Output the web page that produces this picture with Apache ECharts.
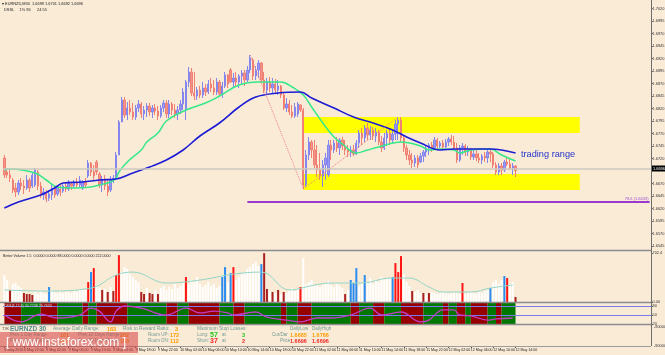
<!DOCTYPE html>
<html>
<head>
<meta charset="utf-8">
<script src="https://cdn.jsdelivr.net/npm/echarts@6/dist/echarts.min.js"></script>
<style>
html, body { margin: 0; padding: 0; background: #faebd7; }
#chart { width: 665px; height: 355px; }
</style>
</head>
<body>
<div id="chart"></div>
<script>
// EURNZD M30, bars as [open, close, low, high]
const ohlc = [
[1.6721,1.6687,1.6681,1.6727],[1.6693,1.6687,1.6681,1.6701],[1.6687,1.6681,1.6673,1.6697],[1.6677,1.6657,1.6651,1.6681],
[1.6661,1.6653,1.6643,1.6671],[1.6653,1.6671,1.6647,1.6677],[1.6671,1.6665,1.6657,1.6681],[1.6665,1.6661,1.6649,1.6677],
[1.6661,1.6677,1.6657,1.6687],[1.6677,1.6661,1.6653,1.6681],[1.6665,1.6687,1.6661,1.6693],[1.6667,1.6697,1.6663,1.6701],
[1.6693,1.6665,1.6657,1.6697],[1.6665,1.6647,1.6641,1.6673],[1.6647,1.6653,1.6637,1.6661],[1.6653,1.6639,1.6633,1.6657],
[1.6641,1.6649,1.6635,1.6657],[1.6647,1.6661,1.6637,1.6667],[1.6661,1.6647,1.6641,1.6665],[1.6649,1.6661,1.6645,1.6667],
[1.6659,1.6653,1.6645,1.6667],[1.6655,1.6665,1.6651,1.6671],[1.6665,1.6659,1.6653,1.6673],[1.6659,1.6671,1.6655,1.6677],
[1.6669,1.6665,1.6657,1.6673],[1.6665,1.6673,1.6661,1.6677],[1.6671,1.6667,1.6661,1.6681],[1.6667,1.6677,1.6663,1.6685],
[1.6661,1.6673,1.6657,1.6677],[1.6673,1.6667,1.6661,1.6681],[1.6685,1.6711,1.6681,1.6717],[1.6711,1.6693,1.6685,1.6713],
[1.6693,1.6685,1.6677,1.6707],[1.6713,1.6693,1.6687,1.6717],[1.6689,1.6667,1.6661,1.6693],[1.6667,1.6677,1.6653,1.6685],
[1.6677,1.6665,1.6657,1.6687],[1.6665,1.6653,1.6645,1.6677],[1.6657,1.6677,1.6653,1.6685],[1.6677,1.6681,1.6671,1.6687],
[1.6681,1.6727,1.6677,1.6733],[1.6727,1.6793,1.6727,1.6797],[1.6793,1.6837,1.6793,1.6843],[1.6837,1.6807,1.6801,1.6843],
[1.6807,1.6821,1.6797,1.6833],[1.6821,1.6813,1.6807,1.6837],[1.6813,1.6803,1.6797,1.6831],[1.6803,1.6821,1.6797,1.6827],
[1.6821,1.6829,1.6813,1.6837],[1.6829,1.6809,1.6801,1.6833],[1.6809,1.6817,1.6797,1.6825],[1.6817,1.6825,1.6803,1.6831],
[1.6825,1.6813,1.6805,1.6831],[1.6813,1.6821,1.6801,1.6827],[1.6821,1.6815,1.6807,1.6829],[1.6815,1.6805,1.6797,1.6825],
[1.6805,1.6821,1.6801,1.6827],[1.6821,1.6831,1.6813,1.6837],[1.6831,1.6809,1.6801,1.6837],[1.6809,1.6829,1.6801,1.6837],
[1.6829,1.6817,1.6807,1.6833],[1.6817,1.6809,1.6801,1.6829],[1.6809,1.6817,1.6797,1.6825],[1.6817,1.6829,1.6809,1.6837],
[1.6829,1.6853,1.6817,1.6861],[1.6817,1.6873,1.6797,1.6877],[1.6873,1.6893,1.6863,1.6903],[1.6893,1.6851,1.6845,1.6901],
[1.6851,1.6845,1.6837,1.6893],[1.6845,1.6857,1.6837,1.6863],[1.6857,1.6847,1.6841,1.6865],[1.6847,1.6861,1.6841,1.6873],
[1.6861,1.6853,1.6845,1.6869],[1.6853,1.6869,1.6849,1.6877],[1.6869,1.6861,1.6853,1.6881],[1.6861,1.6853,1.6847,1.6877],
[1.6853,1.6873,1.6847,1.6881],[1.6873,1.6849,1.6843,1.6877],[1.6849,1.6865,1.6841,1.6873],[1.6865,1.6887,1.6861,1.6893],
[1.6887,1.6869,1.6861,1.6889],[1.6897,1.6873,1.6871,1.6901],[1.6873,1.6881,1.6861,1.6891],[1.6881,1.6873,1.6865,1.6893],
[1.6873,1.6885,1.6861,1.6889],[1.6885,1.6891,1.6867,1.6897],[1.6891,1.6877,1.6865,1.6897],[1.6877,1.6897,1.6873,1.6905],
[1.6897,1.6921,1.6891,1.6927],[1.6917,1.6885,1.6877,1.6921],[1.6885,1.6897,1.6877,1.6905],[1.6897,1.6911,1.6881,1.6917],
[1.6911,1.6877,1.6873,1.6913],[1.6877,1.6857,1.6851,1.6893],[1.6857,1.6873,1.6847,1.6881],[1.6873,1.6861,1.6853,1.6883],
[1.6861,1.6869,1.6849,1.6881],[1.6869,1.6857,1.6849,1.6879],[1.6857,1.6865,1.6847,1.6877],[1.6865,1.6847,1.6841,1.6867],
[1.6847,1.6821,1.6817,1.6851],[1.6821,1.6829,1.6813,1.6841],[1.6829,1.6813,1.6807,1.6837],[1.6813,1.6805,1.6801,1.6827],
[1.6805,1.6823,1.6801,1.6831],[1.6809,1.6829,1.6803,1.6833],[1.6827,1.6817,1.6813,1.6829],[1.6817,1.6667,1.6659,1.6821],
[1.6667,1.6727,1.6663,1.6737],[1.6727,1.6753,1.6717,1.6763],[1.6753,1.6737,1.6721,1.6757],[1.6737,1.6707,1.6701,1.6757],
[1.6707,1.6697,1.6683,1.6747],[1.6697,1.6685,1.6677,1.6731],[1.6685,1.6707,1.6663,1.6717],[1.6707,1.6721,1.6677,1.6731],
[1.6687,1.6747,1.6683,1.6757],[1.6747,1.6737,1.6717,1.6757],[1.6737,1.6751,1.6731,1.6757],[1.6751,1.6741,1.6733,1.6763],
[1.6741,1.6757,1.6727,1.6761],[1.6757,1.6745,1.6737,1.6763],[1.6745,1.6737,1.6727,1.6757],[1.6737,1.6733,1.6723,1.6747],
[1.6733,1.6737,1.6723,1.6745],[1.6737,1.6729,1.6725,1.6747],[1.6729,1.6751,1.6727,1.6757],[1.6751,1.6771,1.6741,1.6777],
[1.6771,1.6761,1.6747,1.6781],[1.6761,1.6781,1.6753,1.6787],[1.6781,1.6767,1.6757,1.6791],[1.6767,1.6777,1.6757,1.6785],
[1.6777,1.6765,1.6757,1.6783],[1.6765,1.6773,1.6753,1.6781],[1.6773,1.6753,1.6747,1.6777],[1.6753,1.6741,1.6733,1.6765],
[1.6741,1.6761,1.6737,1.6771],[1.6761,1.6771,1.6745,1.6777],[1.6771,1.6757,1.6747,1.6781],[1.6757,1.6769,1.6751,1.6777],
[1.6769,1.6789,1.6757,1.6797],[1.6789,1.6797,1.6757,1.6803],[1.6797,1.6761,1.6753,1.6803],[1.6761,1.6741,1.6733,1.6765],
[1.6741,1.6727,1.6717,1.6747],[1.6727,1.6717,1.6707,1.6737],[1.6717,1.6711,1.6701,1.6731],[1.6711,1.6721,1.6703,1.6727],
[1.6721,1.6707,1.6701,1.6727],[1.6713,1.6725,1.6711,1.6731],[1.6725,1.6733,1.6713,1.6737],[1.6733,1.6741,1.6723,1.6747],
[1.6741,1.6747,1.6727,1.6751],[1.6747,1.6741,1.6733,1.6753],[1.6741,1.6757,1.6737,1.6763],[1.6757,1.6745,1.6737,1.6761],
[1.6745,1.6751,1.6741,1.6755],[1.6751,1.6743,1.6737,1.6757],[1.6743,1.6753,1.6741,1.6759],[1.6753,1.6759,1.6745,1.6763],
[1.6759,1.6753,1.6747,1.6767],[1.6753,1.6741,1.6737,1.6765],[1.6741,1.6717,1.6711,1.6751],[1.6717,1.6741,1.6713,1.6747],
[1.6741,1.6745,1.6727,1.6751],[1.6745,1.6733,1.6725,1.6749],[1.6733,1.6737,1.6725,1.6745],[1.6737,1.6723,1.6717,1.6741],
[1.6723,1.6729,1.6717,1.6737],[1.6729,1.6721,1.6715,1.6737],[1.6721,1.6717,1.6711,1.6731],[1.6717,1.6725,1.6709,1.6729],
[1.6725,1.6721,1.6713,1.6733],[1.6721,1.6733,1.6711,1.6737],[1.6733,1.6729,1.6713,1.6741],[1.6729,1.6707,1.6701,1.6733],
[1.6707,1.6693,1.6687,1.6713],[1.6693,1.6705,1.6687,1.6711],[1.6705,1.6697,1.6687,1.6711],[1.6697,1.6713,1.6693,1.6717],
[1.6713,1.6709,1.6705,1.6721],[1.6709,1.6701,1.6697,1.6721],[1.6701,1.6705,1.6687,1.6711],[1.6705,1.6696,1.6683,1.6707]
];

// moving averages: [bar index, price]
const maFast = [[0,1.6697],[2,1.6699],[11,1.6691],[15,1.6677],[19,1.6663],[25,1.6661],[31,1.6663],[34,1.6667],[38,1.6673],
  [40,1.6681],[41,1.6693],[44,1.6713],[49,1.6737],[51,1.6753],[55,1.6771],[58,1.6795],[65,1.6817],[72,1.6831],[77,1.6845],
  [84,1.6867],[91,1.6873],[99,1.6873],[103,1.6863],[107,1.6847],[110,1.6823],[114,1.6791],[118,1.6763],[121,1.6749],
  [126,1.6731],[130,1.6737],[134,1.6743],[142,1.6753],[149,1.6745],[152,1.6737],[156,1.6739],[161,1.6737],[163,1.6731],
  [167,1.6737],[174,1.6739],[178,1.6727],[183,1.6715]];
const maSlow = [[0,1.6621],[5,1.6633],[13,1.6647],[18,1.6661],[21,1.6671],[28,1.6673],[34,1.6677],[40,1.6679],[46,1.6691],
  [52,1.6703],[58,1.6717],[64,1.6737],[70,1.6765],[77,1.6791],[84,1.6823],[90,1.6843],[98,1.6851],[106,1.6853],[110,1.6841],
  [118,1.6821],[125,1.6803],[132,1.6791],[139,1.6777],[144,1.6763],[149,1.6751],[156,1.6737],[161,1.6739],[167,1.6739],
  [174,1.6739],[178,1.6737],[183,1.6731]];

// drawn objects
const fibPath = [[88,1.6927],[107,1.6659],[141,1.6803]];
const upperZone = [107, 206, 1.6771, 1.6803];
const lowerZone = [107, 206, 1.6657, 1.6689];
const supportLine = [87, 1.6633];
const lastPrice = 1.6696;

const priceTicks = [1.7020,1.6995,1.6970,1.6945,1.6920,1.6895,1.6870,1.6845,1.6820,1.6795,1.6770,1.6745,1.6720,
  1.6670,1.6645,1.6620,1.6595,1.6570,1.6545];

// Better Volume: value and bar type (w white, d dark red, r red, b blue)
const vol = [386,315,172,257,272,229,200,129,114,114,100,143,114,157,129,114,215,172,143,129,157,129,143,143,129,157,143,172,
  186,172,286,429,486,229,200,172,186,143,215,157,386,672,429,500,472,400,358,315,286,143,114,200,129,114,172,114,200,229,
  172,215,186,257,200,229,272,358,257,315,286,358,257,215,243,286,229,257,200,229,358,500,286,415,500,315,358,400,429,472,
  500,543,572,515,543,700,186,157,143,129,172,114,143,129,172,200,157,186,215,629,257,286,315,229,257,215,243,272,300,243,
  215,257,229,200,114,172,315,272,486,229,257,386,286,343,257,315,286,358,315,343,329,358,558,429,658,400,286,229,157,143,
  172,129,129,114,129,143,129,114,129,143,129,114,129,143,129,114,272,114,129,143,129,114,143,129,157,172,200,286,315,257,
  315,372,343,257,286,72];
const volType = 'wwdwwwwddddwwwwwbwwwwwwwwwwwwwrbrwwdwdwdrrwwwwwwwddwddwdwwwwwwwwwrwwwwwwwwwwwwbbwbrwwwwwwwwwbddwdwdwdwwwwwrwwwwwwwwwwwwwwwdwbbbwwbwwwwwwwwwbrrrwwwdwwwdwdwwwwwwwwwwwrwwwwwwwwwbwwwwbrwwd';
const volColors = { w: '#ffffff', d: '#a82020', r: '#ff1414', b: '#2a8cf0' };
const volAvg = [[0,172],[15,157],[31,200],[40,386],[46,429],[58,272],[70,315],[82,400],[92,429],[102,172],[111,243],
  [117,272],[128,272],[138,343],[145,343],[152,215],[157,143],[167,143],[174,200],[182,243]];
const volTicks = [0, 702.4];

// oscillator line and trend bands [from bar, to bar, state]
const oscLine = [[0,50],[6,27],[13,53],[19,40],[27,50],[31,73],[34,63],[38,27],[40,63],[43,80],[49,73],[58,50],[65,73],
  [70,57],[75,63],[80,57],[82,50],[90,60],[94,43],[101,33],[106,27],[112,40],[117,40],[124,50],[131,73],[135,50],[142,60],
  [149,27],[152,33],[157,67],[161,67],[163,50],[167,47],[173,33],[176,37],[182,40]];
const oscBands = [[0,6,'r'],[6,13,'g'],[13,19,'r'],[19,28,'g'],[28,30,'r'],[30,33,'g'],[33,44,'r'],[44,58,'g'],[58,62,'r'],
  [62,66,'g'],[66,77,'r'],[77,82,'g'],[82,86,'r'],[86,99,'g'],[99,101,'r'],[101,105,'g'],[105,110,'r'],[110,124,'g'],
  [124,127,'r'],[127,132,'g'],[132,136,'r'],[136,142,'g'],[142,150,'r'],[150,157,'g'],[157,159,'r'],[159,162,'g'],
  [162,165,'r'],[165,167,'g'],[167,173,'r'],[173,176,'g'],[176,178,'r'],[178,183,'g']];
const oscLevels = [80, 50, 20];

const timeIdx = [0,7,15,23,31,39,47,55,63,71,79,87,95,103,111,119,127,135,143,151,159,167,175,183];
const timeLabels = ['6 May 2016','6 May 22:00','9 May 02:00','9 May 06:00','9 May 10:00','9 May 14:00','9 May 18:00',
  '9 May 22:00','10 May 02:00','10 May 06:00','10 May 10:00','10 May 14:00','10 May 18:00','10 May 22:00','11 May 02:00',
  '11 May 06:00','11 May 10:00','11 May 14:00','11 May 18:00','11 May 22:00','12 May 02:00','12 May 06:00',
  '12 May 10:00','12 May 14:00'];

const SLOTS = 232;
const slots = Array.from({ length: SLOTS }, (_, i) => String(i));
const FONT = '"Liberation Sans", Arial, sans-serif';

const chart = echarts.init(document.getElementById('chart'));

function hiddenX(grid) {
  return { type: 'category', gridIndex: grid, data: slots, boundaryGap: true,
    axisLine: { show: false }, axisTick: { show: false }, axisLabel: { show: false } };
}
function rightY(grid, min, max, ticks, fmt) {
  return { type: 'value', gridIndex: grid, position: 'right', min: min, max: max, scale: true,
    splitLine: { show: false },
    axisLine: { show: true, lineStyle: { color: '#6e6e6e', width: 1 } },
    axisTick: { show: true, length: 2, customValues: ticks, lineStyle: { color: '#6e6e6e' } },
    axisLabel: { customValues: ticks, formatter: fmt, fontSize: 3.9, color: '#333', margin: 1.5, fontFamily: FONT } };
}
function txt(x, y, s, fill, size, weight) {
  return { type: 'text', x: x, y: y, z: 50,
    style: { text: s, fill: fill, font: (weight || 'normal') + ' ' + size + 'px ' + FONT, verticalAlign: 'middle' } };
}
function hline(y, x1, x2, color, w) {
  return { type: 'line', z: 40, shape: { x1: x1, y1: y, x2: x2, y2: y }, style: { stroke: color, lineWidth: w } };
}
function timeLabel(v) {
  const k = timeIdx.indexOf(Number(v));
  return k < 0 ? '' : timeLabels[k];
}

const lbl = '#6f9a92', org = '#ff9a00', grn = '#1fc81f', red = '#f02828';

const option = {
  animation: false,
  backgroundColor: '#faebd7',
  grid: [
    { left: 3, top: 0, width: 648, height: 250, outerBoundsMode: 'none' },
    { left: 3, top: 253, width: 648, height: 49, outerBoundsMode: 'none' },
    { left: 3, top: 303, width: 648, height: 22, outerBoundsMode: 'none' },
    { left: 3, top: 325, width: 648, height: 21, outerBoundsMode: 'none' }
  ],
  xAxis: [
    hiddenX(0), hiddenX(1), hiddenX(2),
    { type: 'category', gridIndex: 3, data: slots, boundaryGap: true,
      axisLine: { show: false },
      axisTick: { show: true, alignWithLabel: true, length: 2, customValues: timeIdx, lineStyle: { color: '#555' } },
      axisLabel: { customValues: timeIdx, formatter: timeLabel, hideOverlap: false, showMaxLabel: true,
        align: 'left', fontSize: 3.6, color: '#222', margin: 2, fontFamily: FONT } }
  ],
  yAxis: [
    rightY(0, 1.6537, 1.7037, priceTicks, (v) => v.toFixed(4)),
    rightY(1, 0, 702.4, volTicks, (v) => (v === 0 ? '0.00' : String(v))),
    rightY(2, 16.7, 90, oscLevels, (v) => String(v)),
    { type: 'value', gridIndex: 3, position: 'right', min: 0, max: 1, show: false }
  ],
  series: [
    { type: 'candlestick', xAxisIndex: 0, yAxisIndex: 0, data: ohlc, barWidth: 1.8,
      itemStyle: { color: '#9a9af2', color0: '#f2948a', borderColor: '#8585ee', borderColor0: '#f08074', borderWidth: 1 },
      markArea: { silent: true, itemStyle: { color: '#ffff00' },
        data: [
          [{ xAxis: upperZone[0], yAxis: upperZone[2] }, { xAxis: upperZone[1], yAxis: upperZone[3] }],
          [{ xAxis: lowerZone[0], yAxis: lowerZone[2] }, { xAxis: lowerZone[1], yAxis: lowerZone[3] }]
        ] },
      markLine: { silent: true, symbol: 'none',
        data: [
          { yAxis: lastPrice, lineStyle: { color: '#cdc8c0', width: 1.5, type: 'solid' },
            label: { position: 'end', distance: 1, formatter: lastPrice.toFixed(4), color: '#fff', backgroundColor: '#000',
              fontSize: 3.9, padding: [1, 1], fontFamily: FONT } },
          [{ coord: [supportLine[0], supportLine[1]], lineStyle: { color: '#9a3ad0', width: 2, type: 'solid' },
             label: { position: 'insideEndTop', formatter: '78.6 (' + supportLine[1].toFixed(4) + ')', color: '#a050d8',
               fontSize: 4, distance: 1, fontFamily: FONT } },
           { coord: [SLOTS - 1, supportLine[1]] }]
        ] }
    },
    { type: 'line', xAxisIndex: 0, yAxisIndex: 0, data: maFast, smooth: 0.4, showSymbol: false,
      lineStyle: { color: '#36e888', width: 1.5 }, z: 3 },
    { type: 'line', xAxisIndex: 0, yAxisIndex: 0, data: maSlow, smooth: 0.4, showSymbol: false,
      lineStyle: { color: '#1c1cd4', width: 1.6 }, z: 3 },
    { type: 'line', xAxisIndex: 0, yAxisIndex: 0, data: fibPath, showSymbol: false,
      lineStyle: { color: '#f08080', width: 1, type: 'dotted' }, z: 4 },
    { type: 'bar', xAxisIndex: 1, yAxisIndex: 1, barWidth: 2,
      data: vol.map((v, i) => ({ value: v, itemStyle: { color: volColors[volType[i]] } })) },
    { type: 'line', xAxisIndex: 1, yAxisIndex: 1, data: volAvg, smooth: 0.4, showSymbol: false,
      lineStyle: { color: '#92d6c6', width: 1 } },
    { type: 'line', xAxisIndex: 2, yAxisIndex: 2, data: oscLine, smooth: 0.4, showSymbol: false,
      lineStyle: { color: '#c23cc8', width: 1.3 }, z: 5,
      markArea: { silent: true,
        data: oscBands.map((b) => [{ xAxis: b[0], itemStyle: { color: b[2] === 'g' ? '#007800' : '#960000' } },
          { xAxis: b[1] }]) },
      markLine: { silent: true, symbol: 'none', label: { show: false },
        lineStyle: { color: '#7a7af0', width: 1, type: 'solid' },
        data: oscLevels.map((v) => ({ yAxis: v })) } }
  ],
  graphic: [
    hline(250.5, 0, 651, '#8c8c8c', 1.5),
    hline(302.5, 0, 651, '#8c8c8c', 1.5),
    hline(324.5, 0, 651, '#8c8c8c', 1.5),
    hline(346.5, 0, 651, '#9c9c9c', 1),
    { type: 'line', z: 40, shape: { x1: 651.5, y1: 0, x2: 651.5, y2: 346 }, style: { stroke: '#6e6e6e', lineWidth: 1 } },
    txt(2, 4, '\u25BE EURNZD,M30  1.6699 1.6701 1.6692 1.6696', '#222', 3.9),
    txt(4, 10, 'DSSL     1% 96      24:55', '#222', 3.9),
    txt(521, 154, 'trading range', '#2233cc', 9.2),
    txt(3, 256, 'Better Volume 1.5  0.0000 0.0000 88.0000 0.0000 0.0000 222.0000', '#222', 3.6),
    txt(4, 306, 'DSS(8,13,8) 30.7738 29.7633', '#ddd', 3.6),
    txt(654, 327, '-900000', '#333', 3.9),
    txt(654, 346, '-900000', '#333', 3.9),
    txt(2, 329, 'T3K', '#555', 3.9),
    txt(10, 329, 'EURNZD 30', '#4e8c8c', 6.5, 'bold'),
    txt(53, 329, 'Average Daily Range:', lbl, 4.8),
    txt(107, 329, '183', org, 5.5, 'bold'),
    txt(123, 329, 'Risk to Reward Ratio:', lbl, 4.8),
    txt(175, 329, '3', org, 5.5, 'bold'),
    txt(197, 329, 'Maximum Stop Losses:', lbl, 4.8),
    txt(290, 329, 'DailyLow', lbl, 4.5),
    txt(312, 329, 'DailyHigh', lbl, 4.5),
    txt(10, 335, 'Prev 1 Day Range', lbl, 4.5),
    txt(60, 335, '161', org, 5.5, 'bold'),
    txt(78, 335, 'Prev 10 Days Range:', lbl, 4.5),
    txt(120, 335, '202', org, 5.5, 'bold'),
    txt(148, 335, 'Room UP:', lbl, 4.5),
    txt(170, 335, '172', org, 5.5, 'bold'),
    txt(197, 335, 'Long:', lbl, 4.5),
    txt(210, 335, '57', grn, 7, 'bold'),
    txt(222, 335, 'at', lbl, 4.5),
    txt(242, 335, '3', grn, 5.5, 'bold'),
    txt(272, 335, 'Cur/Dar', lbl, 4.5),
    txt(290, 335, '1.6685', org, 5.5, 'bold'),
    txt(312, 335, '1.6766', org, 5.5, 'bold'),
    txt(10, 341, 'Prev 5 Days Range', lbl, 4.5),
    txt(60, 341, '153', org, 5.5, 'bold'),
    txt(78, 341, 'Prev 20 Days Range', lbl, 4.5),
    txt(120, 341, '188', org, 5.5, 'bold'),
    txt(148, 341, 'Room DN:', lbl, 4.5),
    txt(170, 341, '112', org, 5.5, 'bold'),
    txt(197, 341, 'Short:', lbl, 4.5),
    txt(210, 341, '37', red, 7, 'bold'),
    txt(222, 341, 'at', lbl, 4.5),
    txt(242, 341, '2', red, 5.5, 'bold'),
    txt(280, 341, 'Price', lbl, 4.5),
    txt(290, 341, '1.6696', red, 5.5, 'bold'),
    txt(312, 341, '1.6696', red, 5.5, 'bold'),
    { type: 'rect', z: 60, shape: { x: 0, y: 332, width: 138, height: 21 }, style: { fill: 'rgba(212,64,64,0.55)' } },
    { type: 'text', z: 61, x: 6, y: 343, style: { text: '[ www.instaforex.com ]', fill: '#ffffff',
      font: '12px ' + FONT, verticalAlign: 'middle' } }
  ]
};

chart.setOption(option);
</script>
</body>
</html>
